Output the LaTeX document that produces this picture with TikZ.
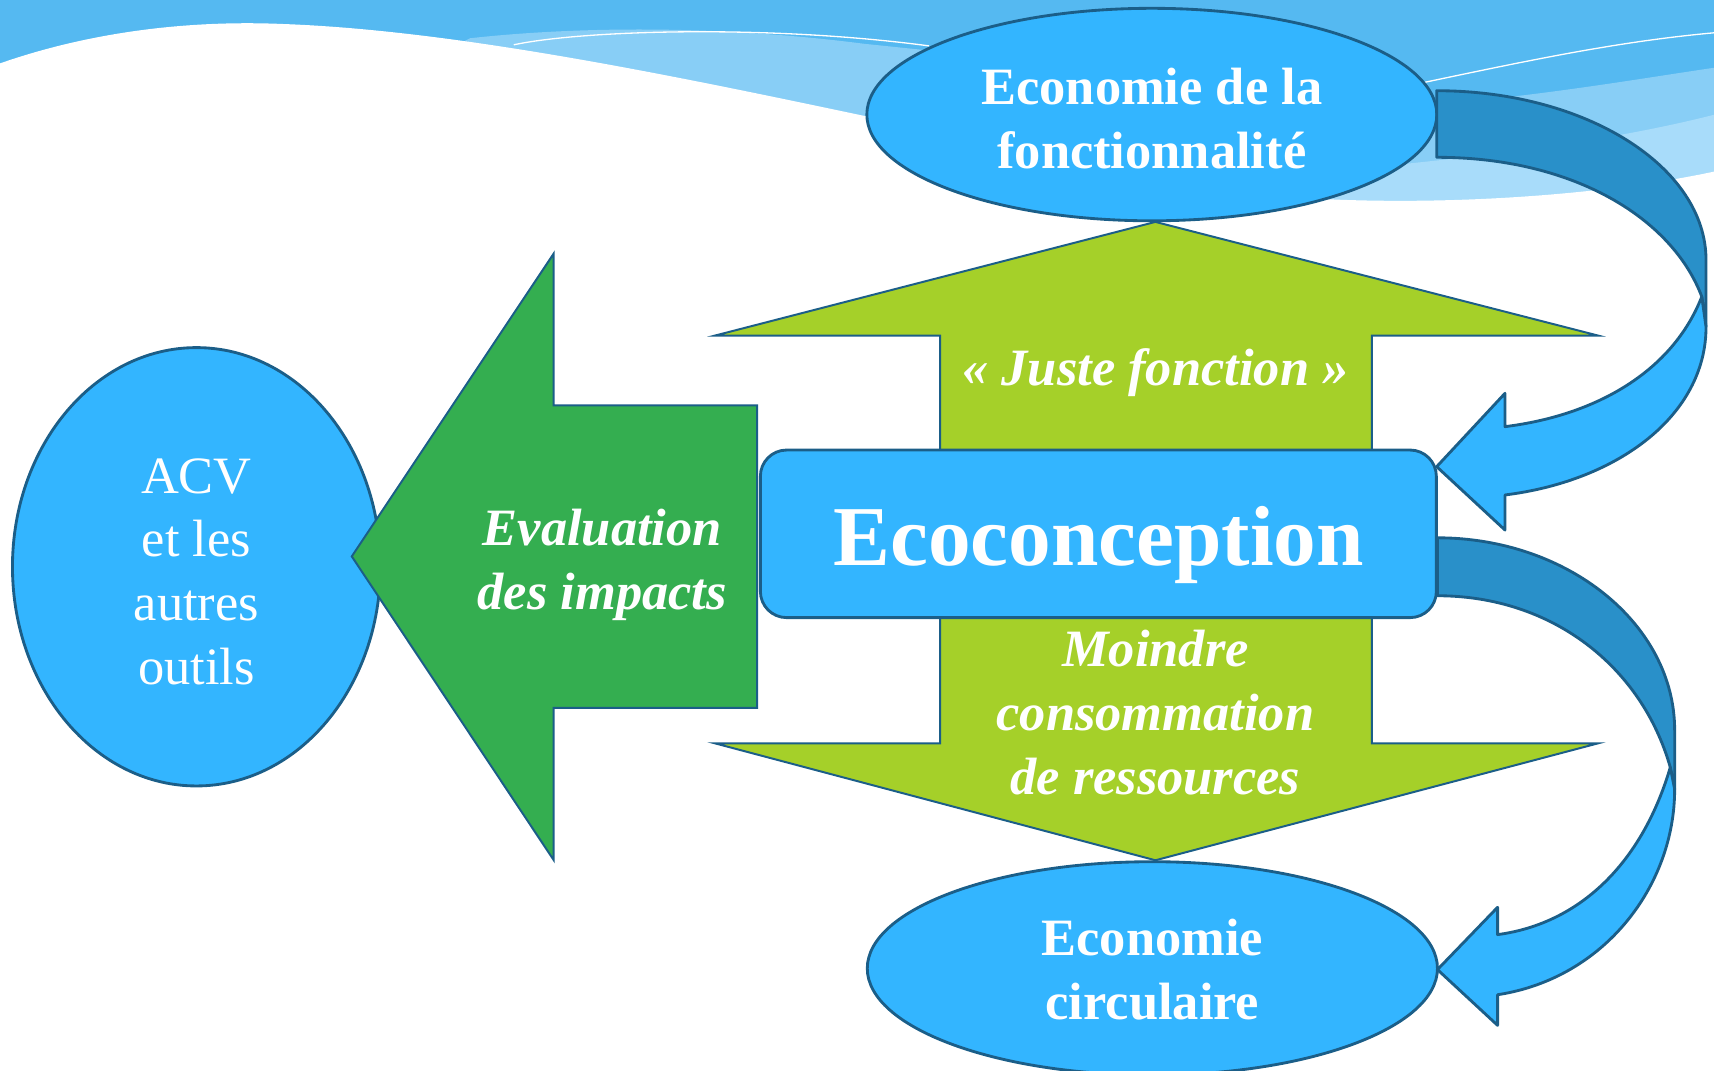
\documentclass[tikz,border=0pt]{standalone}
\usepackage{fontspec}
\setmainfont{Liberation Serif}
\usetikzlibrary{shapes.geometric}
\definecolor{bgmid}{HTML}{55B9F1}
\definecolor{bglight}{HTML}{88CEF6}
\definecolor{bglightest}{HTML}{A8DCFA}
\definecolor{skyb}{HTML}{33B5FF}
\definecolor{edgeb}{HTML}{1B5E88}
\definecolor{darkb}{HTML}{2990C9}
\definecolor{limeg}{HTML}{A5D029}
\definecolor{forestg}{HTML}{34AE50}
\begin{document}
\begin{tikzpicture}[x=0.5pt,y=-0.5pt,
  shapeline/.style={draw=edgeb, line width=1.3pt, line join=round},
  arrowline/.style={draw=edgeb, line width=0.9pt, line join=miter},
  lbl/.style={text=white, align=center, inner sep=0pt},
  regtext/.style={font=\fontsize{24}{29.25}\selectfont},
  boldtext/.style={font=\fontsize{24}{29.25}\selectfont\bfseries},
  bitext/.style={font=\fontsize{24}{29.25}\selectfont\bfseries\itshape},
  oval/.style={ellipse, fill=skyb, shapeline, inner sep=0pt},
]
\useasboundingbox (0,0) rectangle (1568,979);
% background waves
\fill[bgmid] (0,0) rectangle (1568,210);
\fill[bglight] (430,35) .. controls (520,25) and (650,22) .. (790,40) -- (1320,95) .. controls (1420,86) and (1500,72) .. (1568,62) -- (1568,210) -- (380,210) -- (380,60) -- cycle;
\fill[bglightest] (1100,210) -- (1120,165) .. controls (1300,150) and (1450,135) .. (1568,105) -- (1568,210) -- cycle;
\fill[white] (0,58) .. controls (80,30) and (170,18) .. (260,22) .. controls (420,28) and (620,70) .. (800,108) .. controls (950,140) and (1080,178) .. (1209,182) .. controls (1330,188) and (1470,178) .. (1568,157) -- (1568,215) -- (0,215) -- cycle;
\draw[white, line width=0.6pt] (470,41) .. controls (530,28) and (700,22) .. (850,42);
\draw[white, line width=0.6pt] (1300,76) .. controls (1400,55) and (1480,38) .. (1568,30);

% ACV ellipse
\node[oval, minimum width=168.3pt, minimum height=200.5pt] (acv) at (179.7,518.5) {};
\node[lbl, regtext] (acvtxt) at ([yshift=-2.3pt]acv.center) {ACV\\et les\\autres\\outils};

% dark green arrow
\filldraw[fill=forestg, arrowline] (321.8,509) -- (506.5,232) -- (506.5,370.9) -- (692.6,370.9) -- (692.6,647.6) -- (506.5,647.6) -- (506.5,786.8) -- cycle;
\node[lbl, bitext] (eval) at (551,517) {Evaluation\\des impacts};

% light green double arrow
\filldraw[fill=limeg, arrowline] (1057,203) -- (1462,307) -- (1255,307) -- (1255,680) -- (1462,680) -- (1057,787) -- (654,680) -- (860,680) -- (860,307) -- (654,307) -- cycle;
\node[lbl, bitext, anchor=base] (juste) at (1057,352.5) {«~Juste fonction~»};
\node[lbl, bitext] (moindre) at (1057,651.5) {Moindre\\consommation\\de ressources};

% central box
\node[draw=edgeb, line width=1.3pt, fill=skyb, rounded corners=12pt, minimum width=309.2pt, minimum height=76.65pt, inner sep=0pt] (eco) at (1004.8,488.35) {};
\node[lbl, font=\fontsize{39}{39}\selectfont\bfseries, anchor=base] (ecotxt) at (1005,517.6) {Ecoconception};

% top and bottom ellipses
\node[oval, minimum width=260.7pt, minimum height=97.2pt] (efonc) at (1053.7,104.8) {};
\node[lbl, boldtext] (efonctxt) at ([yshift=-2pt]efonc.center) {Economie de la\\fonctionnalité};
\node[oval, minimum width=260.8pt, minimum height=97.6pt] (ecirc) at (1054.2,885.9) {};
\node[lbl, boldtext] (ecirctxt) at ([yshift=-0.5pt]ecirc.center) {Economie\\circulaire};

% top curved arrow
\filldraw[fill=darkb, shapeline] (1314.3,83) .. controls (1450.4,83) and (1560.7,152.4) .. (1560.7,238) -- (1560.7,299) -- (1556.8,271.4) .. controls (1530,200) and (1440,143.9) .. (1314.3,143.9) -- cycle;
\filldraw[fill=skyb, shapeline] (1556.8,271.4) .. controls (1530,340) and (1460,380) .. (1376.8,390.3) -- (1376.8,359.8) -- (1314.3,426.9) -- (1376.8,484.9) -- (1376.8,452.8) .. controls (1480,440) and (1560.7,380) .. (1560.7,299) -- cycle;

% bottom curved arrow
\filldraw[fill=darkb, shapeline] (1315,492) .. controls (1434,492) and (1532,571) .. (1532,668) -- (1532,722) -- (1528,702) .. controls (1502,610) and (1420,545) .. (1315,545) -- cycle;
\filldraw[fill=skyb, shapeline] (1528,702) .. controls (1502,790) and (1445,845) .. (1370,855) -- (1370,830) -- (1315,887) -- (1370,938) -- (1370,910) .. controls (1468,895) and (1532,810) .. (1532,722) -- cycle;
\end{tikzpicture}
\end{document}
